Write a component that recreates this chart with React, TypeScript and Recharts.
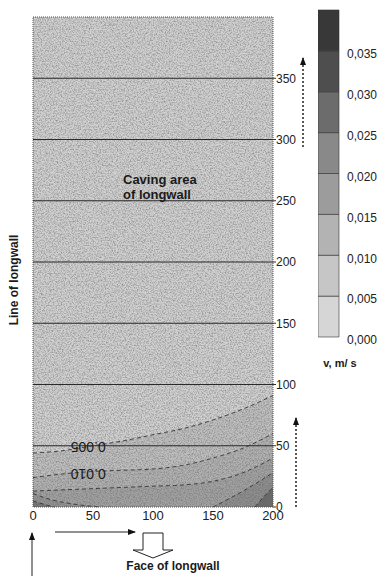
import React from "react"
import {
  Area,
  Bar,
  BarChart,
  CartesianGrid,
  ComposedChart,
  ReferenceArea,
  ReferenceDot,
  ReferenceLine,
  XAxis,
  YAxis,
} from "recharts"

// contour lines (distance along face, metres -> y in metres)
const contourX = [0, 25, 50, 75, 100, 125, 150, 175, 200]
const level005 = [44, 46, 50, 54, 59, 64, 71, 80, 91]
const level010 = [24, 27, 29, 30, 31, 34, 40, 48, 60]
const level015 = [13, 14, 15, 16, 17, 18, 21, 28, 40]
const rightX = [150, 175, 200]
const level020 = [0, 13, 28]
const cornerX = [185, 192, 200]
const level025 = [0, 8, 16]
const leftX = [0, 15, 30, 45, 57]
const leftBand = [11, 6, 3, 1, 0]
const leftCornerX = [0, 10, 18]
const leftCorner = [5, 2, 0]

const xTicks = [0, 50, 100, 150, 200]
const yTicks = [0, 50, 100, 150, 200, 250, 300, 350]
const gridY = [50, 100, 150, 200, 250, 300, 350]

// colour scale
const scaleLevels = [0, 0.005, 0.01, 0.015, 0.02, 0.025, 0.03, 0.035, 0.04]
const scaleTicks = [0, 0.005, 0.01, 0.015, 0.02, 0.025, 0.03, 0.035]
const scaleColors = ["#d6d6d6", "#c6c6c6", "#b3b3b3", "#9c9c9c", "#898989", "#6c6c6c", "#4e4e4e", "#383838"]

const series = [
  { key: "c005", xs: contourX, ys: level005, fill: "#c0c0c0" },
  { key: "c010", xs: contourX, ys: level010, fill: "#b2b2b2" },
  { key: "c015", xs: contourX, ys: level015, fill: "#a2a2a2" },
  { key: "left", xs: leftX, ys: leftBand, fill: "#939393" },
  { key: "c020", xs: rightX, ys: level020, fill: "#8e8e8e" },
  { key: "c025", xs: cornerX, ys: level025, fill: "#6a6a6a" },
  { key: "leftCorner", xs: leftCornerX, ys: leftCorner, fill: "#777777" },
]

const allX = Array.from(new Set(series.flatMap((s) => s.xs))).sort((a, b) => a - b)
const table = allX.map((x) => {
  const row: Record<string, number | null> = { x }
  series.forEach((s) => {
    const i = s.xs.indexOf(x)
    row[s.key] = i >= 0 ? s.ys[i] : null
  })
  return row
})

const scaleRow: Record<string, number | string> = { name: "v" }
scaleColors.forEach((_, i) => {
  scaleRow["b" + i] = +(scaleLevels[i + 1] - scaleLevels[i]).toFixed(3)
})

const font = "'Liberation Sans', Arial, sans-serif"

const grainRect = (p: any) => (
  <rect x={p.x} y={p.y} width={p.width} height={p.height} filter="url(#grain)" />
)

const plotText = (lines: string[], rotate = false, size = 13, anchor = "middle") => (p: any) => (
  <text
    x={p.cx}
    y={p.cy}
    textAnchor={anchor}
    dominantBaseline="central"
    fontFamily={font}
    fontSize={size}
    fontWeight={rotate ? 400 : 700}
    fill="#1a1a1a"
    transform={rotate ? `rotate(180 ${p.cx} ${p.cy})` : undefined}
  >
    {lines.map((l, i) => (
      <tspan key={i} x={p.cx} dy={i === 0 ? 0 : 15}>
        {l}
      </tspan>
    ))}
  </text>
)

export default function App() {
  return (
    <div style={{ position: "absolute", left: 0, top: 0, width: 387, height: 576, background: "#fff" }}>
      <div style={{ position: "absolute", left: 0, top: 0 }}>
        <ComposedChart
          width={387}
          height={576}
          data={table}
          margin={{ top: 17, left: 33, right: 74, bottom: 39 }}
        >
          <defs>
            <filter id="grain" x="0" y="0" width="1" height="1">
              <feTurbulence type="fractalNoise" baseFrequency="0.75" numOctaves="2" seed="7" result="n" />
              <feColorMatrix
                in="n"
                type="matrix"
                values="0 0 0 0 0.12  0 0 0 0 0.12  0 0 0 0 0.12  1.3 0 0 0 -0.5"
              />
            </filter>
          </defs>
          <CartesianGrid fill="#d2d2d2" horizontal={false} vertical={false} />
          <XAxis
            dataKey="x"
            type="number"
            domain={[0, 200]}
            ticks={xTicks}
            tickLine={false}
            axisLine={false}
            tickSize={2}
            tickMargin={2}
            tick={{ fill: "#222", fontSize: 13, fontFamily: font }}
            height={30}
          />
          <YAxis
            orientation="right"
            type="number"
            domain={[0, 400]}
            ticks={yTicks}
            axisLine={false}
            tickSize={3}
            tickMargin={0}
            tickLine={{ stroke: "#333" }}
            tick={{ fill: "#222", fontSize: 12, fontFamily: font, textAnchor: "start" }}
            width={40}
          />
          {series.map((s) => (
            <Area
              key={s.key}
              dataKey={s.key}
              type="monotone"
              connectNulls
              fill={s.fill}
              fillOpacity={1}
              stroke="#2e2e2e"
              strokeWidth={0.9}
              strokeDasharray="4 3"
              dot={false}
              activeDot={false}
              isAnimationActive={false}
            />
          ))}
          <ReferenceArea x1={0} x2={200} y1={0} y2={400} shape={grainRect} />
          {gridY.map((g) => (
            <ReferenceLine key={g} y={g} stroke="#2a2a2a" strokeWidth={1} />
          ))}
          <ReferenceArea
            x1={0}
            x2={200}
            y1={0}
            y2={400}
            fill="none"
            fillOpacity={0}
            stroke="#555"
            strokeDasharray="1 1"
          />
          <ReferenceDot x={75} y={268} r={0} shape={plotText(["Caving area", "of longwall"], false, 13, "start")} />
          <ReferenceDot x={46} y={49} r={0} shape={plotText(["0.005"], true, 14)} />
          <ReferenceDot x={46} y={27} r={0} shape={plotText(["0.010"], true, 14)} />
        </ComposedChart>
      </div>

      <div style={{ position: "absolute", left: 318, top: 0 }}>
        <BarChart
          width={69}
          height={352}
          data={[scaleRow]}
          margin={{ top: 10, right: 0, left: 0, bottom: 15 }}
          barCategoryGap={0}
        >
          <XAxis dataKey="name" hide />
          <YAxis
            orientation="right"
            type="number"
            domain={[0, 0.04]}
            ticks={scaleTicks}
            axisLine={false}
            tickLine={false}
            tickMargin={2}
            width={48}
            tickFormatter={(v: number) => v.toFixed(3).replace(".", ",")}
            tick={{ fill: "#222", fontSize: 12, fontFamily: font, textAnchor: "start", dy: 3 }}
          />
          {scaleColors.map((c, i) => (
            <Bar
              key={i}
              dataKey={"b" + i}
              stackId="s"
              fill={c}
              stroke="#333"
              strokeWidth={0.6}
              isAnimationActive={false}
            />
          ))}
        </BarChart>
      </div>

      <svg
        width={387}
        height={576}
        style={{ position: "absolute", left: 0, top: 0, pointerEvents: "none" }}
        fontFamily={font}
      >
        <defs>
          <marker id="head" markerWidth="8" markerHeight="8" refX="7" refY="4" orient="auto" markerUnits="userSpaceOnUse">
            <path d="M0,1 L8,4 L0,7 Z" fill="#111" />
          </marker>
        </defs>
        <text
          x={14}
          y={280}
          transform="rotate(-90 14 280)"
          textAnchor="middle"
          dominantBaseline="central"
          fontSize={12}
          fontWeight={700}
          fill="#1a1a1a"
        >
          Line of longwall
        </text>
        <text x={173} y={566} textAnchor="middle" dominantBaseline="central" fontSize={12} fontWeight={700} fill="#1a1a1a">
          Face of longwall
        </text>
        <text x={340} y={363} textAnchor="middle" dominantBaseline="central" fontSize={11} fontWeight={700} fill="#1a1a1a">
          v, m/ s
        </text>
        <path d="M143,533 H163 V550 H173 L153,558 L133,550 H143 Z" fill="#fff" stroke="#222" strokeWidth={1} />
        <line x1={55} y1={532} x2={135} y2={532} stroke="#222" strokeWidth={1} markerEnd="url(#head)" />
        <line x1={32} y1={576} x2={32} y2={533} stroke="#222" strokeWidth={1} markerEnd="url(#head)" />
        <line x1={303} y1={147} x2={303} y2={58} stroke="#222" strokeWidth={1.5} strokeDasharray="2 2" markerEnd="url(#head)" />
        <line x1={296} y1={507} x2={296} y2={418} stroke="#222" strokeWidth={1.5} strokeDasharray="2 2" markerEnd="url(#head)" />
      </svg>
    </div>
  )
}
